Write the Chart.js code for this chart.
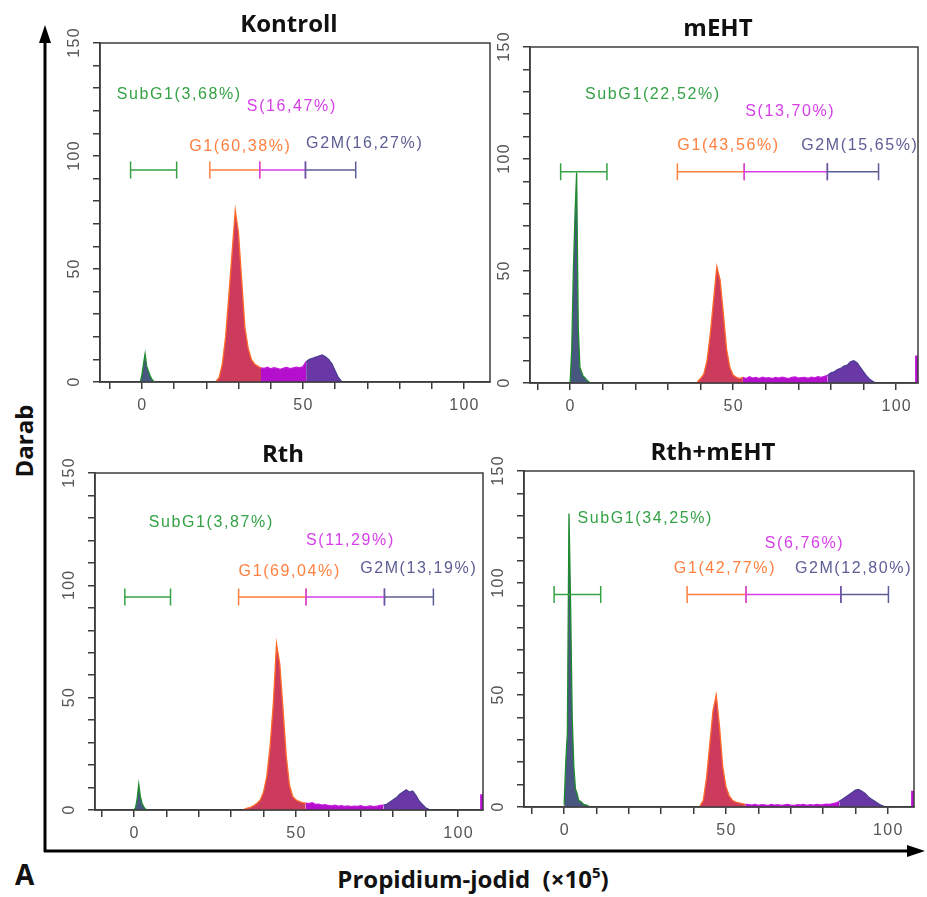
<!DOCTYPE html>
<html>
<head>
<meta charset="utf-8">
<script src="https://cdn.jsdelivr.net/npm/chart.js@4.4.1/dist/chart.umd.min.js"></script>
<style>
  html, body { margin: 0; padding: 0; background: #fff; }
  #page { position: relative; width: 927px; height: 897px; overflow: hidden; }
  #page canvas, #page svg { position: absolute; left: 0; top: 0; }
</style>
</head>
<body>
<div id="page">
  <svg width="927" height="897">
    <line x1="45" y1="852" x2="45" y2="40" stroke="#000" stroke-width="3"/>
    <polygon points="45,25 39,43 51,43" fill="#000"/>
    <line x1="44" y1="851" x2="910" y2="851" stroke="#000" stroke-width="3"/>
    <polygon points="925,851 907,845 907,857" fill="#000"/>
    <text x="33" y="441" transform="rotate(-90 33 441)" text-anchor="middle" font-family="Open Sans" font-weight="bold" font-size="24" fill="#111">Darab</text>
    <text x="15" y="885" font-family="Open Sans" font-weight="bold" font-size="28" fill="#111">A</text>
    <text x="473" y="888" text-anchor="middle" font-family="Open Sans" font-weight="bold" font-size="24" fill="#111">Propidium-jodid&#160; (×10<tspan dy="-10" font-size="15">5</tspan><tspan dy="10">)</tspan></text>
  </svg>
</div>
<script>
// histogram counts (SubG1 peak in 0.5 steps, rest in 1 unit steps)
var kontrollSubG1 = [0, 3, 8, 12.5, 7, 5, 3, 1.5, 0.5, 0];
var kontrollMain = [0.3, 2, 8, 20, 38, 57, 76, 66, 45, 24, 15, 10, 8, 7,
    6.2, 6, 6.5, 5.8, 6.3, 6, 5.6, 6.1, 6.4, 5.9, 6.2, 6.6, 6.3, 6.8,
    9, 10, 10.5, 11, 11.5, 12, 11.2, 10, 8, 5, 2, 0.3];
var kontrollEdge = [];

var mehtSubG1 = [0, 15, 50, 75, 94, 25, 7, 5, 3, 2.5, 1.5, 0.8, 0.3, 0];
var mehtMain = [0.5, 2, 4, 10, 22, 37, 52, 46, 31, 15, 7, 3.5, 2.5, 2,
    2.5, 2, 2.8, 2.2, 2.5, 2, 2.6, 2.2, 2.4, 2, 2.5, 2.2, 2.6, 2.3, 2, 2.5, 2.7, 2.2, 2.4, 2.5, 2.1, 2.6, 2.3, 2.8, 2.5, 3,
    3.4, 4.5, 5, 6, 6.5, 7.5, 8, 9.5, 10, 9, 7, 5, 3, 1.5, 0.5, 0];
var mehtEdge = [0, 12];

var rthSubG1 = [0, 1, 5, 11.4, 6, 3, 1.5, 0.5, 0];
var rthMain = [0.3, 0.8, 1.2, 2, 3, 4.5, 8, 15, 28, 47, 74, 65, 45, 24, 11, 6, 4.5, 3.8, 3.3,
    3, 2.8, 3.2, 2.5, 2.6, 2.2, 2.4, 2, 1.8, 2.1, 1.7, 1.9, 1.6, 1.8, 1.5, 1.7, 1.6, 1.9, 1.5, 1.6, 1.8, 1.5, 1.7, 2, 2.2,
    2.5, 3.5, 4.5, 5.5, 7, 8, 9, 8, 8.5, 6.5, 4, 2.5, 1, 0.3, 0];
var rthEdge = [0, 6.7];

var rthMehtSubG1 = [1, 20, 33, 131, 90, 40, 18, 8, 6, 3, 2.5, 2, 1.2, 1, 0.8, 0.4, 0];
var rthMehtMain = [0.5, 3, 13, 28, 43, 50, 36, 18, 9, 5, 3, 2.2, 1.8, 1.5, 1.2,
    1, 0.8, 1.2, 0.7, 1, 0.9, 0.6, 1.1, 0.8, 1, 0.7, 0.9, 1.2, 0.8, 0.6, 1, 0.9, 1.1, 0.7, 1, 0.8, 1.2, 0.9, 1, 1.3, 1.2, 1.5, 1.8,
    2.5, 3.5, 4.5, 5.5, 6.5, 7.5, 7.8, 7, 6, 4.5, 3.5, 2.5, 1.5, 0.7, 0.2];
var rthMehtEdge = [0, 7];

// gate markers: SubG1 start, SubG1 end, G1 start, G1/S, S/G2M, G2M end
var kontrollGates = [-3.5, 10.8, 21.1, 36.6, 50.8, 66.4];
var mehtGates = [-2.9, 11.3, 32.9, 53.4, 78.9, 94.6];
var rthGates = [-2.8, 11.3, 32.3, 53.1, 77.3, 92.4];
var rthMehtGates = [-3.1, 11.3, 38, 56.2, 85.5, 100.2];

// gate labels: SubG1, G1, S, G2M
var kontrollLabels = ['SubG1(3,68%)', 'G1(60,38%)', 'S(16,47%)', 'G2M(16,27%)'];
var mehtLabels = ['SubG1(22,52%)', 'G1(43,56%)', 'S(13,70%)', 'G2M(15,65%)'];
var rthLabels = ['SubG1(3,87%)', 'G1(69,04%)', 'S(11,29%)', 'G2M(13,19%)'];
var rthMehtLabels = ['SubG1(34,25%)', 'G1(42,77%)', 'S(6,76%)', 'G2M(12,80%)'];

var yTickLabels = [0, 50, 100, 150];
var xTickLabels = [0, 50, 100];

var phaseFill = { subG1: '#47577f', G1: '#cc3a5c', S: '#b40fcc', G2M: '#6a38a6' };
var phaseLine = { subG1: '#1f8a30', G1: '#ff6a2a', S: '#c41adc', G2M: '#4d3d8f' };
var gateColor = ['#35a246', '#ff8040', '#d63ee8', '#5d5d96'];
var frameColor = '#3c3c3c';

var panels = [
    { title: 'Kontroll', area: [100, 43, 490, 382], xRange: [-13, 108.1],
      subStart: -0.5, sub: kontrollSubG1, mainStart: 23, main: kontrollMain, edgeStart: 106, edge: kontrollEdge,
      gates: kontrollGates, gateY: 93.8, labels: kontrollLabels,
      labelPos: [[-7.8, 127], [14.7, 104], [32.6, 121.7], [51, 105.7]] },
    { title: 'mEHT', area: [530, 47, 918, 383], xRange: [-12.3, 106.7],
      subStart: 0, sub: mehtSubG1, mainStart: 39, main: mehtMain, edgeStart: 106, edge: mehtEdge,
      gates: mehtGates, gateY: 94.3, labels: mehtLabels,
      labelPos: [[4.6, 128.6], [32.9, 106], [53.7, 121], [70.9, 106]] },
    { title: 'Rth', area: [95, 473, 483, 810], xRange: [-12, 107.7],
      subStart: 0, sub: rthSubG1, mainStart: 34, main: rthMain, edgeStart: 107, edge: rthEdge,
      gates: rthGates, gateY: 94.8, labels: rthLabels,
      labelPos: [[4.6, 128], [32.3, 106], [53.1, 120], [69.8, 107.5]] },
    { title: 'Rth+mEHT', area: [524, 471, 914, 807], xRange: [-12.4, 108.1],
      subStart: 0, sub: rthMehtSubG1, mainStart: 42, main: rthMehtMain, edgeStart: 107.4, edge: rthMehtEdge,
      gates: rthMehtGates, gateY: 94.9, labels: rthMehtLabels,
      labelPos: [[4.1, 128.8], [33.9, 106.5], [62, 117.6], [71.3, 106.5]] }
];

var PAD_TOP = 45, PAD_LEFT = 60, PAD_BOTTOM = 40, PAD_RIGHT = 6;

function toPoints(start, step, counts) {
    return counts.map(function (c, i) { return { x: start + i * step, y: c }; });
}

function phaseOf(x, g) {
    if (x < g[2]) return 'subG1';
    if (x < g[3]) return 'G1';
    if (x < g[4]) return 'S';
    if (x <= g[5]) return 'G2M';
    return 'S';
}

function histDataset(points, gates, stepped) {
    return {
        data: points,
        stepped: stepped,
        fill: 'origin',
        pointRadius: 0,
        borderWidth: 1.3,
        borderColor: phaseLine.G1,
        backgroundColor: phaseFill.G1,
        segment: {
            borderColor: function (ctx) {
                if (ctx.p0.parsed.y === 0 && ctx.p1.parsed.y === 0) return 'rgba(0,0,0,0)';
                return phaseLine[phaseOf((ctx.p0.parsed.x + ctx.p1.parsed.x) / 2, gates)];
            },
            backgroundColor: function (ctx) {
                return phaseFill[phaseOf((ctx.p0.parsed.x + ctx.p1.parsed.x) / 2, gates)];
            }
        }
    };
}

function decorPlugin(p) {
    return {
        id: 'panelDecor',
        afterDraw: function (chart) {
            var ctx = chart.ctx, a = chart.chartArea;
            var xs = chart.scales.x, ys = chart.scales.y;
            ctx.save();

            // plot frame
            ctx.strokeStyle = frameColor;
            ctx.lineWidth = 1.5;
            ctx.strokeRect(a.left, a.top, a.right - a.left, a.bottom - a.top);

            // panel title
            ctx.fillStyle = '#111';
            ctx.font = 'bold 24px "Open Sans"';
            ctx.textAlign = 'center';
            ctx.textBaseline = 'alphabetic';
            ctx.fillText(p.title, (a.left + a.right) / 2 - 6, a.top - 11);

            // tick labels
            ctx.fillStyle = '#555';
            ctx.font = '16px "Liberation Sans"';
            ctx.letterSpacing = '1.3px';
            ctx.textBaseline = 'middle';
            xTickLabels.forEach(function (v) {
                ctx.fillText(String(v), xs.getPixelForValue(v) + 0.6, a.bottom + 24);
            });
            yTickLabels.forEach(function (v) {
                ctx.save();
                ctx.translate(a.left - 25, ys.getPixelForValue(v));
                ctx.rotate(-Math.PI / 2);
                ctx.fillText(String(v), 0.6, 0);
                ctx.restore();
            });

            // gate markers
            var g = p.gates;
            var spans = [[g[0], g[1]], [g[2], g[3]], [g[3], g[4]], [g[4], g[5]]];
            var gy = ys.getPixelForValue(p.gateY);
            ctx.lineWidth = 1.5;
            spans.forEach(function (s, i) {
                var x0 = xs.getPixelForValue(s[0]), x1 = xs.getPixelForValue(s[1]);
                ctx.strokeStyle = gateColor[i];
                ctx.beginPath();
                ctx.moveTo(x0, gy); ctx.lineTo(x1, gy);
                ctx.moveTo(x0, gy - 8.5); ctx.lineTo(x0, gy + 8.5);
                ctx.moveTo(x1, gy - 8.5); ctx.lineTo(x1, gy + 8.5);
                ctx.stroke();
            });

            // gate labels
            ctx.font = '16px "Liberation Sans"';
            ctx.letterSpacing = '1.6px';
            ctx.textAlign = 'left';
            ctx.textBaseline = 'middle';
            p.labels.forEach(function (txt, i) {
                ctx.fillStyle = gateColor[i];
                ctx.fillText(txt, xs.getPixelForValue(p.labelPos[i][0]), ys.getPixelForValue(p.labelPos[i][1]));
            });
            ctx.restore();
        }
    };
}

var page = document.getElementById('page');

panels.forEach(function (p) {
    var w = (p.area[2] - p.area[0]) + PAD_LEFT + PAD_RIGHT;
    var h = (p.area[3] - p.area[1]) + PAD_TOP + PAD_BOTTOM;
    var canvas = document.createElement('canvas');
    canvas.width = w;
    canvas.height = h;
    canvas.style.left = (p.area[0] - PAD_LEFT) + 'px';
    canvas.style.top = (p.area[1] - PAD_TOP) + 'px';
    canvas.style.width = w + 'px';
    canvas.style.height = h + 'px';
    page.appendChild(canvas);

    var axisGrid = { drawOnChartArea: false, drawTicks: true, tickLength: 7, color: frameColor, lineWidth: 1.5 };
    var axisBorder = { display: true, color: frameColor, width: 1.5 };

    new Chart(canvas, {
        type: 'line',
        data: {
            datasets: [
                histDataset(toPoints(p.subStart, 0.5, p.sub), p.gates, false),
                histDataset(toPoints(p.mainStart, 1, p.main), p.gates, false),
                // off-scale bin at the right border, drawn as a block
                histDataset(toPoints(p.edgeStart, 1, p.edge), p.gates, 'after')
            ]
        },
        options: {
            responsive: false,
            animation: false,
            events: [],
            layout: { padding: { top: PAD_TOP, right: PAD_RIGHT, left: 0, bottom: 0 } },
            plugins: { legend: { display: false }, tooltip: { enabled: false } },
            scales: {
                x: {
                    type: 'linear',
                    min: p.xRange[0],
                    max: p.xRange[1],
                    ticks: { display: false, stepSize: 10, includeBounds: false },
                    grid: axisGrid,
                    border: axisBorder,
                    afterFit: function (s) { s.height = PAD_BOTTOM; }
                },
                y: {
                    min: 0,
                    max: 150,
                    ticks: { display: false, stepSize: 10 },
                    grid: axisGrid,
                    border: axisBorder,
                    afterFit: function (s) { s.width = PAD_LEFT; }
                }
            }
        },
        plugins: [decorPlugin(p)]
    });
});
</script>
</body>
</html>
